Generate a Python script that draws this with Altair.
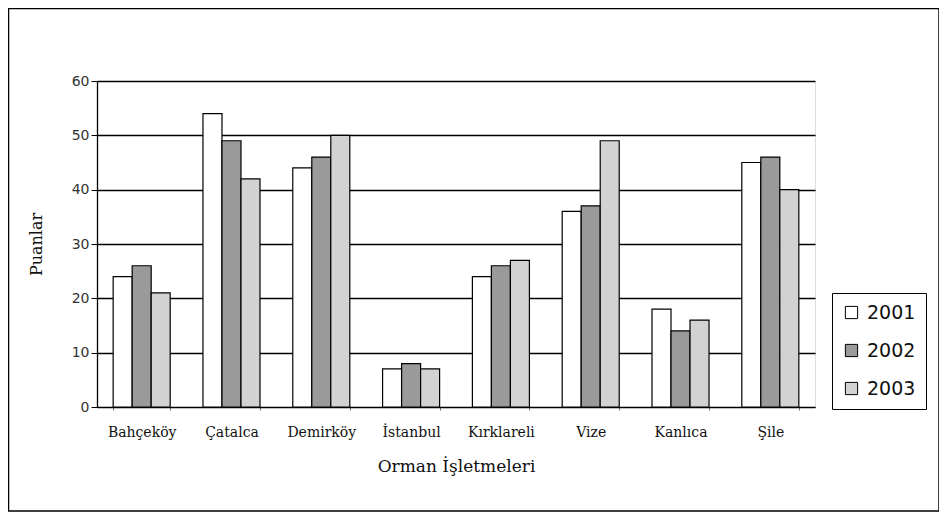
import altair as alt
import pandas as pd

categories = ["Bahçeköy", "Çatalca", "Demirköy", "İstanbul", "Kırklareli", "Vize", "Kanlıca", "Şile"]
years = ["2001", "2002", "2003"]
v2001 = [24, 54, 44, 7, 24, 36, 18, 45]
v2002 = [26, 49, 46, 8, 26, 37, 14, 46]
v2003 = [21, 42, 50, 7, 27, 49, 16, 40]
y_ticks = [0, 10, 20, 30, 40, 50, 60]
bar_colors = ["#ffffff", "#9a9a9a", "#d2d2d2"]

rows = []
for yr, vals in zip(years, [v2001, v2002, v2003]):
    for c, v in zip(categories, vals):
        rows.append({"İşletme": c, "Yıl": yr, "Puan": v})
df = pd.DataFrame(rows)

W, H = 718, 326

bars = alt.Chart(df).mark_bar(stroke="black", strokeWidth=1.2).encode(
    x=alt.X("İşletme:N", sort=categories,
            scale=alt.Scale(paddingInner=0.365, paddingOuter=0.18),
            axis=alt.Axis(title="Orman İşletmeleri", labelAngle=0, tickBand="extent",
                          tickSize=3, tickColor="#666", domainColor="black", domainWidth=1.2,
                          labelFont="DejaVu Serif", labelFontSize=14, labelColor="#111",
                          labelPadding=15, titleFont="DejaVu Serif", titleFontSize=17,
                          titleFontWeight="normal", titleColor="#111", titlePadding=19)),
    xOffset=alt.XOffset("Yıl:N", sort=years, scale=alt.Scale(paddingInner=0, paddingOuter=0)),
    y=alt.Y("Puan:Q", scale=alt.Scale(domain=[0, 60], nice=False),
            axis=alt.Axis(title="Puanlar", values=y_ticks, grid=True, gridColor="black",
                          gridWidth=1.3, tickSize=6, tickColor="black", domainColor="black",
                          domainWidth=1.3, labelFont="DejaVu Sans", labelFontSize=14,
                          labelColor="#333", labelPadding=2, titleFont="DejaVu Serif",
                          titleFontSize=16, titleFontWeight="normal", titleColor="#111",
                          titlePadding=27)),
    color=alt.Color("Yıl:N", sort=years,
                    scale=alt.Scale(domain=years, range=bar_colors),
                    legend=alt.Legend(title=None, orient="none", legendX=735, legendY=212,
                                      symbolType="square", symbolSize=150,
                                      symbolStrokeColor="black", symbolStrokeWidth=1,
                                      labelFont="DejaVu Sans", labelFontSize=19,
                                      labelColor="#111", labelOffset=6, rowPadding=18,
                                      padding=10, strokeColor="black", fillColor="white")),
)

frame = alt.Chart(pd.DataFrame({"f": [0]})).mark_rect(
    fill=None, stroke="black", strokeWidth=1.5, clip=False
).encode(
    x=alt.value(-88.5), x2=alt.value(842), y=alt.value(-72.5), y2=alt.value(430)
)

chart = alt.layer(frame, bars).properties(
    width=W, height=H,
    autosize=alt.AutoSizeParams(type="none"),
    padding={"left": 89, "top": 73, "right": 124, "bottom": 110},
).configure_view(stroke=None).configure(background="white")

chart.save("out.html", embed_options={"renderer": "svg", "actions": False})
